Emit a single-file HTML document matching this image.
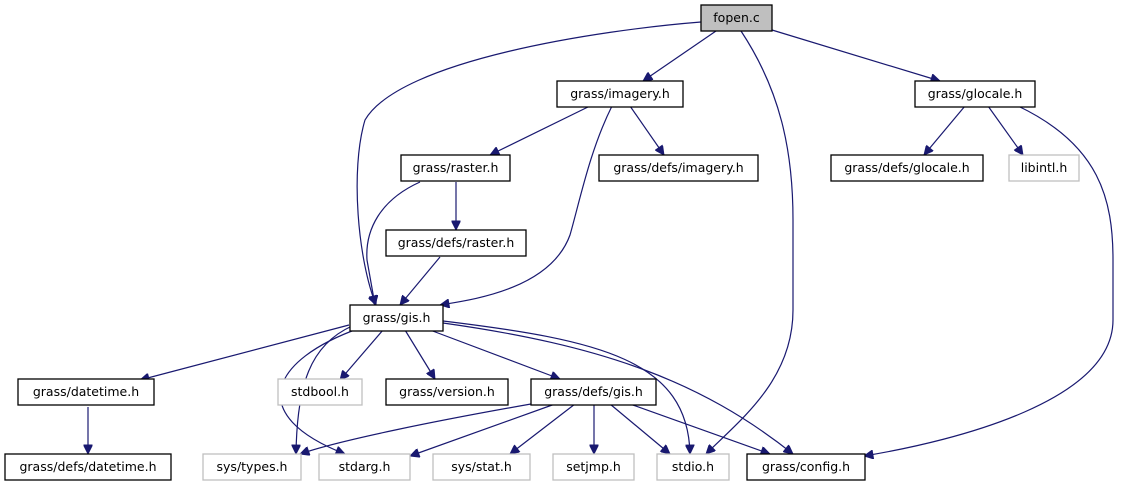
<!DOCTYPE html>
<html><head><meta charset="utf-8"><style>
html,body{margin:0;padding:0;background:#fff;}
svg{display:block;}
text{font-family:"DejaVu Sans","Liberation Sans",sans-serif;font-size:12.5px;text-anchor:middle;fill:#000;}
.n{fill:#fff;stroke:#000;stroke-width:1.3;}
.g{fill:#fff;stroke:#bfbfbf;stroke-width:1.3;}
.e{fill:none;stroke:#191970;stroke-width:1.2;marker-end:url(#a);}
</style></head><body>
<svg width="1123" height="485" viewBox="0 0 1123 485" xmlns="http://www.w3.org/2000/svg">
<defs><marker id="a" viewBox="0 0 10 10" refX="10" refY="5" markerWidth="11" markerHeight="9" markerUnits="userSpaceOnUse" orient="auto"><path d="M0,0 L10,5 L0,10 z" fill="#191970" stroke="#191970"/></marker></defs>
<g>
<path class="e" d="M716,31 L643,81"/>
<path class="e" d="M701,22 C600,30 400,60 365,120 C350,170 358,260 376,305"/>
<path class="e" d="M741,31 C780,90 793,150 793,220 L793,310 C793,380 740,420 706,454"/>
<path class="e" d="M772,30 L940,81"/>
<path class="e" d="M590,106 L490,155"/>
<path class="e" d="M630,106 L664,155"/>
<path class="e" d="M612,106 C590,150 580,200 570,235 C550,290 470,300 440,305"/>
<path class="e" d="M965,106 L924,155"/>
<path class="e" d="M988,106 L1023,155"/>
<path class="e" d="M1018,106 C1100,145 1113,200 1113,260 L1113,320 C1113,400 960,440 864,456"/>
<path class="e" d="M456,182 L456,230"/>
<path class="e" d="M420,182 C380,200 365,230 367,260 L375,305"/>
<path class="e" d="M440,257 L400,305"/>
<path class="e" d="M349,325 L140,380"/>
<path class="e" d="M352,326 C310,345 297,385 296,454"/>
<path class="e" d="M360,328 C270,360 245,415 345,454"/>
<path class="e" d="M383,330 L340,380"/>
<path class="e" d="M405,330 L435,379"/>
<path class="e" d="M430,330 L560,379"/>
<path class="e" d="M443,321 C600,340 688,360 690,454"/>
<path class="e" d="M443,323 C600,345 700,380 793,454"/>
<path class="e" d="M88,407 L88,454"/>
<path class="e" d="M531,404 C440,420 340,440 300,454"/>
<path class="e" d="M555,404 L410,456"/>
<path class="e" d="M575,404 L510,454"/>
<path class="e" d="M594,404 L594,454"/>
<path class="e" d="M610,404 L670,454"/>
<path class="e" d="M630,404 L770,454"/>
</g>
<rect x="701" y="5" width="71" height="26" fill="#bfbfbf" stroke="#000" stroke-width="1.3"/><text x="736.5" y="22">fopen.c</text>
<rect class="n" x="557" y="81" width="126" height="26"/><text x="620" y="98">grass/imagery.h</text>
<rect class="n" x="915" y="81" width="120" height="26"/><text x="975" y="98">grass/glocale.h</text>
<rect class="n" x="401" y="155" width="109" height="26"/><text x="455.5" y="172">grass/raster.h</text>
<rect class="n" x="599" y="155" width="159" height="26"/><text x="678.5" y="172">grass/defs/imagery.h</text>
<rect class="n" x="831" y="155" width="152" height="26"/><text x="907" y="172">grass/defs/glocale.h</text>
<rect class="g" x="1009" y="155" width="70" height="26"/><text x="1044" y="172">libintl.h</text>
<rect class="n" x="386" y="230" width="140" height="26"/><text x="456" y="247">grass/defs/raster.h</text>
<rect class="n" x="350" y="305" width="93" height="26"/><text x="396.5" y="322">grass/gis.h</text>
<rect class="n" x="18" y="379" width="136" height="26"/><text x="86" y="396">grass/datetime.h</text>
<rect class="g" x="278" y="379" width="84" height="26"/><text x="320" y="396">stdbool.h</text>
<rect class="n" x="386" y="379" width="122" height="26"/><text x="447" y="396">grass/version.h</text>
<rect class="n" x="531" y="379" width="125" height="26"/><text x="593.5" y="396">grass/defs/gis.h</text>
<rect class="n" x="5" y="454" width="166" height="26"/><text x="88" y="471">grass/defs/datetime.h</text>
<rect class="g" x="203" y="454" width="98" height="26"/><text x="252" y="471">sys/types.h</text>
<rect class="g" x="319" y="454" width="91" height="26"/><text x="364.5" y="471">stdarg.h</text>
<rect class="g" x="433" y="454" width="97" height="26"/><text x="481.5" y="471">sys/stat.h</text>
<rect class="g" x="553" y="454" width="81" height="26"/><text x="593.5" y="471">setjmp.h</text>
<rect class="g" x="657" y="454" width="72" height="26"/><text x="693" y="471">stdio.h</text>
<rect class="n" x="747" y="454" width="118" height="26"/><text x="806" y="471">grass/config.h</text>
</svg>
</body></html>
